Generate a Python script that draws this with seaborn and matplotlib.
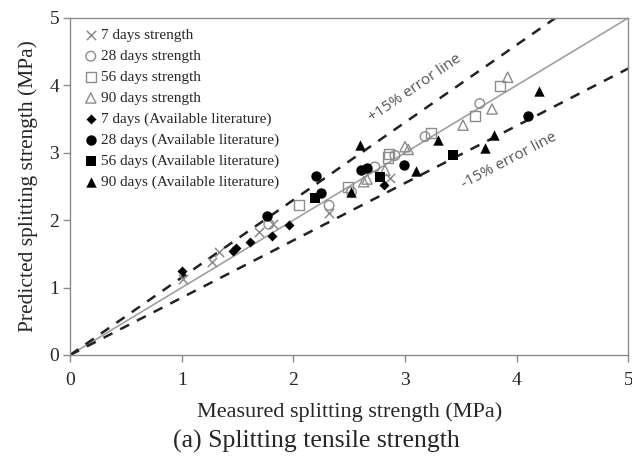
import matplotlib
matplotlib.use("Agg")
import matplotlib.pyplot as plt
import seaborn as sns
import numpy as np
import pandas as pd

# ---- data (measured, predicted) in MPa ----
d7_x = [1.01, 1.27, 1.33, 1.69, 1.82, 2.32, 2.87]
d7_y = [1.13, 1.38, 1.53, 1.83, 1.95, 2.11, 2.62]

d28_x = [1.78, 2.32, 2.52, 2.73, 2.91, 3.18, 3.67]
d28_y = [1.94, 2.22, 2.42, 2.79, 2.96, 3.24, 3.73]

d56_x = [2.05, 2.49, 2.86, 2.85, 3.23, 3.63, 3.85]
d56_y = [2.22, 2.49, 2.98, 2.93, 3.29, 3.54, 3.99]

d90_x = [2.63, 2.66, 2.82, 3.00, 3.03, 3.52, 3.78, 3.92]
d90_y = [2.57, 2.61, 2.74, 3.09, 3.05, 3.41, 3.65, 4.12]

l7_x = [1.00, 1.46, 1.49, 1.61, 1.81, 1.96, 2.81]
l7_y = [1.24, 1.55, 1.59, 1.68, 1.77, 1.93, 2.52]

l28_x = [1.76, 2.20, 2.25, 2.61, 2.66, 2.99, 4.10]
l28_y = [2.06, 2.66, 2.40, 2.74, 2.78, 2.82, 3.55]

l56_x = [2.19, 2.78, 3.43]
l56_y = [2.33, 2.64, 2.96]

l90_x = [2.60, 2.52, 3.10, 3.30, 3.72, 3.80, 4.20]
l90_y = [3.11, 2.42, 2.73, 3.19, 3.07, 3.26, 3.92]

labels = ["7 days strength", "28 days strength", "56 days strength", "90 days strength",
          "7 days (Available literature)", "28 days (Available literature)",
          "56 days (Available literature)", "90 days (Available literature)"]

line_x = [0, 5]
ratios = [1.0, 1.15, 0.85]

sns.set_style("white")
plt.rcParams["font.family"] = ["Liberation Serif", "DejaVu Serif"]

fig = plt.figure(figsize=(6.32, 4.61), dpi=100)
ax = fig.add_axes([0.111, 0.23, 0.883, 0.731])

gray = "#8c8c8c"
# reference lines
lx = np.array(line_x, dtype=float)
sns.lineplot(x=lx, y=lx * ratios[0], ax=ax, color="#a0a0a0", linewidth=1.2)
for r in ratios[1:]:
    sns.lineplot(x=lx, y=lx * r, ax=ax, color="#222222", linewidth=1.8,
                 linestyle=(0, (4, 3.5)))

groups = [
    (d7_x, d7_y, "x", dict(color=gray, linewidth=1.1, s=44)),
    (d28_x, d28_y, "o", dict(facecolor="none", edgecolor=gray, linewidth=1.0, s=48)),
    (d56_x, d56_y, "s", dict(facecolor="none", edgecolor=gray, linewidth=1.0, s=54)),
    (d90_x, d90_y, "^", dict(facecolor="none", edgecolor=gray, linewidth=1.0, s=54)),
    (l7_x, l7_y, "D", dict(color="black", linewidth=0, s=26)),
    (l28_x, l28_y, "o", dict(color="black", linewidth=0, s=56)),
    (l56_x, l56_y, "s", dict(color="black", linewidth=0, s=56)),
    (l90_x, l90_y, "^", dict(color="black", linewidth=0, s=56)),
]
for (gx, gy, m, kw), lab in zip(groups, labels):
    df = pd.DataFrame({"x": gx, "y": gy})
    sns.scatterplot(data=df, x="x", y="y", ax=ax, marker=m, label=lab, zorder=3, **kw)

ax.set_xlim(0, 5)
ax.set_ylim(0, 5)
ax.set_xticks([0, 1, 2, 3, 4, 5])
ax.set_yticks([0, 1, 2, 3, 4, 5])
ax.tick_params(axis="both", which="both", direction="out", length=5, width=1,
               color=gray, labelsize=14, left=True, bottom=True)
ax.tick_params(axis="x", pad=7)
ax.tick_params(axis="y", pad=3)
for sp in ax.spines.values():
    sp.set_color(gray)
    sp.set_linewidth(1.0)

ax.set_xlabel("Measured splitting strength (MPa)", fontsize=16, labelpad=10)
ax.set_ylabel("Predicted splitting strength (MPa)", fontsize=15.5, labelpad=8)

ax.legend(loc="upper left", frameon=False, fontsize=11, handletextpad=0.0,
          labelspacing=0.47, borderaxespad=0.3, handlelength=1.3,
          bbox_to_anchor=(0.0, 1.0))

ax.text(3.09, 3.96, "+15% error line", rotation=34.5, fontsize=11, color="#555555",
        family=["Open Sans", "DejaVu Sans"], ha="center", va="center",
        rotation_mode="anchor")
ax.text(3.93, 2.88, "-15% error line", rotation=27.5, fontsize=11, color="#555555",
        family=["Open Sans", "DejaVu Sans"], ha="center", va="center",
        rotation_mode="anchor")

fig.text(0.5, 0.043, "(a) Splitting tensile strength", ha="center", va="center",
         fontsize=18.5)

fig.savefig("out.png", dpi=100)
